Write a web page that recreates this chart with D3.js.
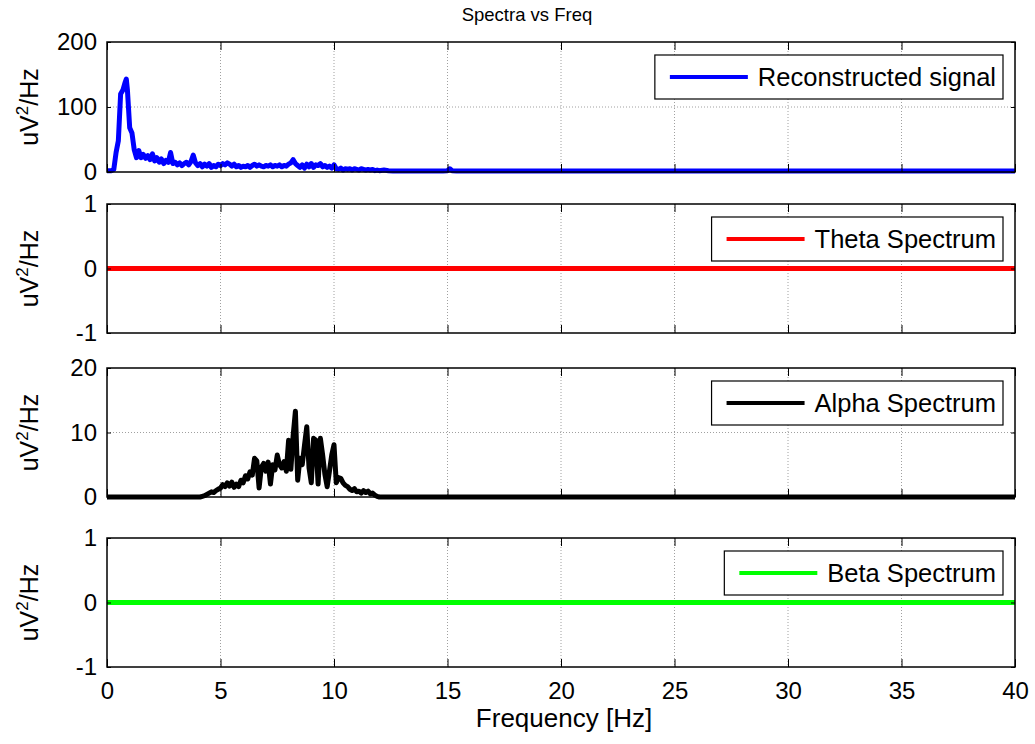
<!DOCTYPE html>
<html>
<head>
<meta charset="utf-8">
<script src="https://cdn.jsdelivr.net/npm/d3@7"></script>
<style>
  body { margin: 0; background: #fff; }
  svg { display: block; font-family: "Liberation Sans", Arial, sans-serif; }
</style>
</head>
<body>
<div id="chart"></div>
<script>
  // Data
  var reconFreq = [0, 0.1, 0.2, 0.3, 0.4, 0.5, 0.6, 0.7, 0.8, 0.85, 0.9, 1.0, 1.1, 1.2, 1.3, 1.4, 1.5, 1.6, 1.7, 1.8, 1.9,
      2.0, 2.1, 2.2, 2.3, 2.4, 2.5, 2.6, 2.7, 2.8, 2.9, 3.0, 3.1, 3.2, 3.3, 3.4, 3.5, 3.6, 3.7, 3.8, 3.9,
      4.0, 4.1, 4.2, 4.3, 4.4, 4.5, 4.6, 4.7, 4.8, 4.9, 5.0, 5.1, 5.2, 5.3, 5.4, 5.5, 5.6, 5.7, 5.8, 5.9,
      6.0, 6.1, 6.2, 6.3, 6.4, 6.5, 6.6, 6.7, 6.8, 6.9, 7.0, 7.1, 7.2, 7.3, 7.4, 7.5, 7.6, 7.7, 7.8, 7.9,
      8.0, 8.1, 8.2, 8.3, 8.4, 8.5, 8.6, 8.7, 8.8, 8.9, 9.0, 9.1, 9.2, 9.3, 9.4, 9.5, 9.6, 9.7, 9.8, 9.9,
      10.0, 10.1, 10.2, 10.3, 10.4, 10.5, 10.6, 10.7, 10.8, 10.9, 11.0, 11.1, 11.2, 11.3, 11.4, 11.5, 11.6, 11.7, 11.8, 11.9,
      12.0, 12.2, 12.4, 12.6, 13.0, 14.0, 14.8, 15.0, 15.1, 15.2, 15.4, 20, 30, 40];
  var reconPower = [2, 2, 2, 4, 30, 48, 120, 126, 138, 143, 126, 68, 60, 34, 22, 33, 22, 27, 21, 25, 19,
      28, 17, 22, 15, 20, 13, 18, 15, 30, 13, 15, 11, 14, 10, 13, 15, 11, 16, 26, 14,
      10, 13, 8, 12, 9, 13, 7, 10, 8, 12, 10, 13, 11, 14, 12, 9, 12, 8, 10, 7,
      9, 8, 10, 7, 10, 12, 9, 11, 9, 8, 10, 9, 11, 8, 10, 9, 11, 8, 10, 9,
      12, 14, 19, 13, 10, 7, 11, 6, 12, 8, 13, 7, 11, 10, 13, 8, 10, 7, 9, 6,
      11, 5, 4, 6, 3, 5, 4, 5, 3, 5, 4, 3, 5, 4, 3, 4, 3, 4, 2, 3,
      2, 3, 2, 1.5, 1.5, 1.5, 1.5, 2, 5, 2, 1.5, 1.5, 1.5, 1.5];

  var thetaFreq = [0, 40];
  var thetaPower = [0, 0];

  var alphaFreq = [0, 4.0, 4.1, 4.2, 4.3, 4.4, 4.5, 4.6, 4.7, 4.8, 4.9,
      5.0, 5.1, 5.2, 5.3, 5.4, 5.5, 5.6, 5.7, 5.8, 5.9, 6.0, 6.1, 6.2, 6.3, 6.4, 6.5, 6.6, 6.7, 6.8, 6.9,
      7.0, 7.1, 7.2, 7.3, 7.4, 7.5, 7.6, 7.7, 7.8, 7.9, 8.0, 8.1, 8.2, 8.3, 8.4, 8.5, 8.6, 8.7, 8.8, 8.9,
      9.0, 9.1, 9.2, 9.3, 9.4, 9.5, 9.6, 9.7, 9.8, 9.9, 10.0, 10.1, 10.2, 10.3, 10.4, 10.5, 10.6, 10.7, 10.8, 10.9,
      11.0, 11.1, 11.2, 11.3, 11.4, 11.5, 11.6, 11.7, 11.8, 11.9, 12.0, 40];
  var alphaPower = [0, 0, 0, 0.1, 0.2, 0.4, 0.6, 0.8, 0.7, 1.0, 1.2,
      1.4, 1.9, 1.6, 2.2, 1.7, 2.3, 1.5, 2.0, 1.6, 2.6, 2.2, 3.3, 2.8, 3.9, 3.4, 6.0, 5.6, 1.4, 4.6, 5.2,
      4.0, 5.4, 2.0, 5.0, 4.2, 6.5, 5.0, 4.5, 5.5, 4.0, 8.8, 4.3, 9.5, 13.3, 2.6, 6.0, 5.0, 8.0, 10.9, 4.5,
      2.2, 9.1, 8.8, 2.0, 9.1, 6.5, 3.5, 1.6, 4.0, 6.5, 8.1, 2.2, 3.0, 2.9, 2.2, 1.8, 1.6, 1.2, 1.0, 1.3,
      0.8, 0.9, 0.6, 1.0, 0.7, 0.9, 0.5, 0.6, 0.3, 0.1, 0, 0];

  var betaFreq = [0, 40];
  var betaPower = [0, 0];

  var xTicks = [0, 5, 10, 15, 20, 25, 30, 35, 40];
  var yTicksRecon = [0, 100, 200];
  var yTicksAlpha = [0, 10, 20];
  var yTicksFlat = [-1, 0, 1];
  var legendNames = ['Reconstructed signal', 'Theta Spectrum', 'Alpha Spectrum', 'Beta Spectrum'];

  var panels = [
      { freq: reconFreq, power: reconPower, ticks: yTicksRecon, color: '#0000ff', top: 42, bottom: 172 },
      { freq: thetaFreq, power: thetaPower, ticks: yTicksFlat, color: '#ff0000', top: 204, bottom: 333 },
      { freq: alphaFreq, power: alphaPower, ticks: yTicksAlpha, color: '#000000', top: 368, bottom: 497 },
      { freq: betaFreq, power: betaPower, ticks: yTicksFlat, color: '#00ff00', top: 538, bottom: 667 }
  ];

  var width = 1035;
  var height = 744;
  var left = 107;
  var right = 1015;

  // MATLAB style numbers: plain hyphen for minus
  var numFmt = function(d) { return d < 0 ? '-' + Math.abs(d) : String(d); };

  var svg = d3.select('#chart')
      .append('svg')
      .attr('width', width)
      .attr('height', height);

  var x = d3.scaleLinear()
      .domain([0, 40])
      .range([left, right]);

  panels.forEach(function(p, i) {
      var ticks = p.ticks;
      var y = d3.scaleLinear()
          .domain([ticks[0], ticks[ticks.length - 1]])
          .range([p.bottom, p.top]);

      var g = svg.append('g');

      // dotted grid
      g.selectAll('.vgrid')
          .data(xTicks.slice(1, -1))
          .enter().append('line')
          .attr('x1', function(d) { return x(d); })
          .attr('x2', function(d) { return x(d); })
          .attr('y1', p.top)
          .attr('y2', p.bottom)
          .attr('stroke', '#a0a0a0')
          .attr('stroke-dasharray', '1,2');

      g.selectAll('.hgrid')
          .data(ticks.slice(1, -1))
          .enter().append('line')
          .attr('x1', left)
          .attr('x2', right)
          .attr('y1', function(d) { return y(d); })
          .attr('y2', function(d) { return y(d); })
          .attr('stroke', '#a0a0a0')
          .attr('stroke-dasharray', '1,2');

      // data line
      var pts = p.freq.map(function(f, k) { return [f, p.power[k]]; });
      g.append('path')
          .datum(pts)
          .attr('fill', 'none')
          .attr('stroke', p.color)
          .attr('stroke-width', 5)
          .attr('stroke-linejoin', 'round')
          .attr('d', d3.line()
              .x(function(d) { return x(d[0]); })
              .y(function(d) { return y(d[1]); }));

      // axes, ticks inside, box
      var tickSize = 8;
      g.append('g')
          .attr('transform', 'translate(0,' + p.bottom + ')')
          .call(d3.axisBottom(x).tickValues(xTicks).tickSizeInner(-tickSize).tickSizeOuter(0)
              .tickFormat(i === 3 ? numFmt : ''))
          .call(function(a) {
              a.select('.domain').remove();
              a.selectAll('text').attr('font-size', 24).attr('fill', '#000').attr('dy', '1.2em').attr('font-family', null);
              a.selectAll('line').attr('stroke', '#000');
          });
      g.append('g')
          .attr('transform', 'translate(0,' + p.top + ')')
          .call(d3.axisTop(x).tickValues(xTicks).tickSizeInner(-tickSize).tickSizeOuter(0).tickFormat(''))
          .call(function(a) { a.select('.domain').remove(); });
      g.append('g')
          .attr('transform', 'translate(' + left + ',0)')
          .call(d3.axisLeft(y).tickValues(ticks).tickSizeInner(-4).tickSizeOuter(0).tickPadding(10).tickFormat(numFmt))
          .call(function(a) {
              a.select('.domain').remove();
              a.selectAll('text').attr('font-size', 24).attr('fill', '#000').attr('font-family', null);
          });
      g.append('g')
          .attr('transform', 'translate(' + right + ',0)')
          .call(d3.axisRight(y).tickValues(ticks).tickSizeInner(-4).tickSizeOuter(0).tickFormat(''))
          .call(function(a) { a.select('.domain').remove(); });

      g.append('rect')
          .attr('x', left)
          .attr('y', p.top)
          .attr('width', right - left)
          .attr('height', p.bottom - p.top)
          .attr('fill', 'none')
          .attr('stroke', '#000')
          .attr('stroke-width', 1.5);

      // y label
      var yl = g.append('text')
          .attr('transform', 'translate(38,' + ((p.top + p.bottom) / 2) + ') rotate(-90)')
          .attr('text-anchor', 'middle')
          .attr('font-size', 25);
      yl.append('tspan').text('uV');
      yl.append('tspan').attr('dy', -10).attr('font-size', 17).text('2');
      yl.append('tspan').attr('dy', 10).text('/Hz');

      // legend
      var leg = g.append('g');
      var box = leg.append('rect')
          .attr('y', p.top + 13)
          .attr('height', 44)
          .attr('fill', '#fff')
          .attr('stroke', '#000')
          .attr('stroke-width', 1.2);
      var txt = leg.append('text')
          .attr('y', p.top + 13 + 31)
          .attr('font-size', 25.5)
          .text(legendNames[i]);
      var tw = txt.node().getComputedTextLength();
      var bw = 15 + 78 + 10 + tw + 7;
      var bx = 1003 - bw;
      box.attr('x', bx).attr('width', bw);
      txt.attr('x', bx + 15 + 78 + 10);
      leg.append('line')
          .attr('x1', bx + 15)
          .attr('x2', bx + 15 + 78)
          .attr('y1', p.top + 13 + 22)
          .attr('y2', p.top + 13 + 22)
          .attr('stroke', p.color)
          .attr('stroke-width', 4);
  });

  svg.append('text')
      .attr('x', 527)
      .attr('y', 21)
      .attr('text-anchor', 'middle')
      .attr('font-size', 18.5)
      .text('Spectra vs Freq');

  svg.append('text')
      .attr('x', 564)
      .attr('y', 727)
      .attr('text-anchor', 'middle')
      .attr('font-size', 26)
      .text('Frequency [Hz]');
</script>
</body>
</html>
